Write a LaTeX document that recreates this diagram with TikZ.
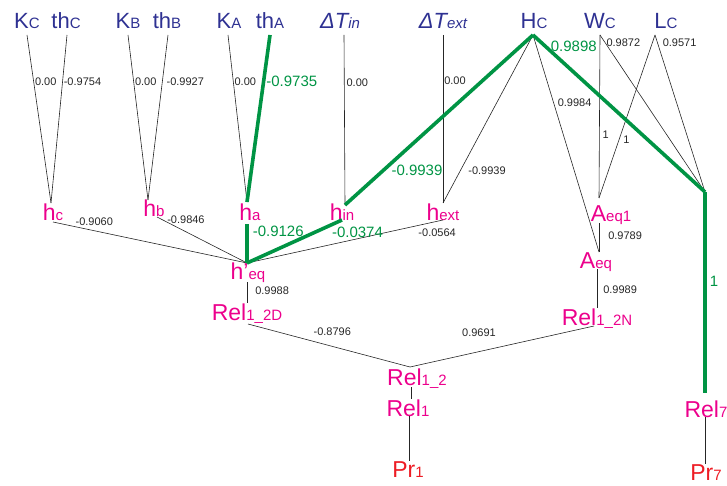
\documentclass[tikz,border=0pt]{standalone}
\usepackage{fontspec}
\setmainfont{Liberation Sans}
\usepackage{xcolor}

\definecolor{varblue}{RGB}{46,49,146}
\definecolor{relpink}{RGB}{236,0,140}
\definecolor{prred}{RGB}{237,28,36}
\definecolor{pathgreen}{RGB}{0,148,68}
\newcommand{\lsub}[1]{{\fontsize{15}{15}\selectfont #1}}

\begin{document}
\begin{tikzpicture}[
    x=1pt, y=-1pt,
    var/.style={anchor=base, inner sep=0pt, text=varblue, font=\fontsize{22}{22}\selectfont},
    rel/.style={anchor=base, inner sep=0pt, text=relpink, font=\fontsize{23}{23}\selectfont},
    prob/.style={rel, text=prred},
    link/.style={line width=0.6pt, black!85},
    hot/.style={line width=3.6pt, pathgreen},
    val/.style={font=\fontsize{11}{11}\selectfont, inner sep=1pt, text=black!85},
    gval/.style={val, font=\fontsize{15}{15}\selectfont, text=pathgreen}]
  \useasboundingbox (0,0) rectangle (727,486);
  % --- top row: input variables ---
  \node[var] (Kc)  at (27,29)  {K\lsub{C}};
  \node[var] (thc) at (66,29)  {th\lsub{C}};
  \node[var] (Kb)  at (128,29) {K\lsub{B}};
  \node[var] (thb) at (167,29) {th\lsub{B}};
  \node[var] (Ka)  at (229,29) {K\lsub{A}};
  \node[var] (tha) at (270,29) {th\lsub{A}};
  \node[var] (Tin) at (340,29) {\itshape ΔT\lsub{in}};
  \node[var] (Tex) at (443,29) {\itshape ΔT\lsub{ext}};
  \node[var] (Hc)  at (534,29) {H\lsub{C}};
  \node[var] (Wc)  at (600,29) {W\lsub{C}};
  \node[var] (Lc)  at (666,29) {L\lsub{C}};
  % --- middle row ---
  \node[rel] (hc)   at (53,221)  {h\lsub{c}};
  \node[rel] (hb)   at (154,217) {h\lsub{b}};
  \node[rel] (ha)   at (250,220) {h\lsub{a}};
  \node[rel] (hin)  at (342,220) {h\lsub{in}};
  \node[rel] (hext) at (443,220) {h\lsub{ext}};
  \node[rel] (Aeq1) at (611,222) {A\lsub{eq1}};
  \node[rel] (heq)  at (248,279) {h’\lsub{eq}};
  \node[rel] (Aeq)  at (596,268) {A\lsub{eq}};
  \node[rel] (R2D)  at (247,320) {Rel\lsub{1\_2D}};
  \node[rel] (R2N)  at (597,325) {Rel\lsub{1\_2N}};
  % --- bottom: relations and probabilities ---
  \node[rel]  (R12) at (417,385) {Rel\lsub{1\_2}};
  \node[rel]  (R1)  at (408,416) {Rel\lsub{1}};
  \node[prob] (Pr1) at (408,477) {Pr\lsub{1}};
  \node[rel]  (R7)  at (706,417) {Rel\lsub{7}};
  \node[prob] (Pr7) at (706,480) {Pr\lsub{7}};
  % --- junction points ---
  \coordinate (jhc)   at (51,203);
  \coordinate (jhb)   at (148,200);
  \coordinate (jha)   at (247,202);
  \coordinate (jhin)  at (345,205);
  \coordinate (jhext) at (443,203);
  \coordinate (jA1)   at (599,198);
  \coordinate (jA)    at (599,252);
  \coordinate (jR7)   at (705,192);
  \coordinate (jheq)  at (247,263);
  \coordinate (jR12)  at (410,367);

  % --- thin links, top ---
  \draw[link] ([yshift=-6pt]Kc.base) -- node[val,pos=0.28,anchor=west]{0.00} (jhc);
  \draw[link] ([xshift=1pt,yshift=-6pt]thc.base) -- node[val,pos=0.28,anchor=west]{-0.9754} (jhc);
  \draw[link] ([yshift=-6pt]Kb.base) -- node[val,pos=0.285,anchor=west]{0.00} (jhb);
  \draw[link] ([xshift=1pt,yshift=-6pt]thb.base) -- node[val,pos=0.285,anchor=west,xshift=3pt]{-0.9927} (jhb);
  \draw[link] ([xshift=-1pt,yshift=-6pt]Ka.base) -- node[val,pos=0.28,anchor=west]{0.00} (jha);
  \draw[link] ([xshift=4pt,yshift=-6pt]Tin.base) -- node[val,pos=0.28,anchor=west,xshift=1pt]{0.00} (jhin);
  \draw[link] ([yshift=-6pt]Tex.base) -- node[val,pos=0.27,anchor=west]{0.00} (jhext);
  \draw[link] ([xshift=-1pt,yshift=-6pt]Hc.base) -- node[val,pos=0.81,anchor=west,xshift=7pt]{-0.9939} (jhext);
  \draw[link] ([xshift=-1pt,yshift=-6pt]Hc.base) -- node[val,pos=0.31,anchor=west,xshift=3pt]{0.9984} (jA);
  \draw[link] ([yshift=-6pt]Wc.base) -- node[val,pos=0.61,anchor=west,xshift=2pt]{1} (jA1);
  \draw[link] ([yshift=-6pt]Wc.base) -- node[val,pos=0.05,anchor=west]{0.9872} (jR7);
  \draw[link] ([xshift=-11pt,yshift=-6pt]Lc.base) -- node[val,pos=0.64,anchor=west,xshift=3pt]{1} (jA1);
  \draw[link] ([xshift=-11pt,yshift=-6pt]Lc.base) -- node[val,pos=0.05,anchor=west,xshift=4pt]{0.9571} (jR7);
  % --- thin links, middle ---
  \draw[link] ([yshift=-1pt]hc.base) -- node[val,pos=0.11,anchor=south west]{-0.9060} (jheq);
  \draw[link] ([xshift=3pt]hb.base) -- node[val,pos=0.1,anchor=west,yshift=2pt]{-0.9846} (jheq);
  \draw[link] (hext.base) -- node[val,pos=0.03,anchor=north,yshift=-6pt]{-0.0564} (jheq);
  \draw[link] ([xshift=-1pt,yshift=-3pt]heq.base) -- node[val,pos=0.43,anchor=west,xshift=7pt]{0.9988} (R2D.north);
  \draw[link] ([xshift=-12pt,yshift=-1pt]Aeq1.base) -- node[val,pos=0.45,anchor=west,xshift=8pt]{0.9789} (jA);
  \draw[link] ([xshift=1pt,yshift=-1pt]Aeq.base) -- node[val,pos=0.54,anchor=west,xshift=5pt]{0.9989} (R2N.north);
  \draw[link] ([xshift=1pt,yshift=-4pt]R2D.base) -- node[val,pos=0.52,anchor=south,yshift=9pt]{-0.8796} (jR12);
  \draw[link] ([xshift=-3pt,yshift=-1pt]R2N.base) -- node[val,pos=0.625,anchor=south,yshift=14pt]{0.9691} (jR12);
  % --- thin links, bottom ---
  \draw[link] ([xshift=-6pt,yshift=-2pt]R12.base) -- ([xshift=3pt]R1.north);
  \draw[link] ([xshift=1pt]R1.base) -- ([xshift=1pt]Pr1.north);
  \draw[link] ([xshift=-1pt]R7.base) -- ([xshift=-1pt]Pr7.north);

  % --- green path ---
  \draw[hot] ([yshift=-6pt]tha.base) -- node[gval,pos=0.28,anchor=west]{-0.9735} (jha);
  \draw[hot] ([xshift=-3pt,yshift=-4pt]ha.base) -- node[gval,pos=0.2,anchor=west,xshift=3pt]{-0.9126} (jheq);
  \draw[hot] (hin.base) -- node[gval,pos=0.05,anchor=north west,xshift=-8pt,yshift=-2pt]{-0.0374} (jheq);
  \draw[hot] ([xshift=-1pt,yshift=-6pt]Hc.base) -- node[gval,pos=0.794,anchor=west,xshift=5pt]{-0.9939} (jhin);
  \draw[hot] ([xshift=-1pt,yshift=-6pt]Hc.base) -- node[gval,pos=0.07,anchor=west,xshift=3pt]{0.9898} (jR7);
  \draw[hot] (jR7) -- node[gval,pos=0.445,anchor=west,xshift=2pt]{1} ([xshift=-1pt,yshift=7pt]R7.north);
\end{tikzpicture}
\end{document}
